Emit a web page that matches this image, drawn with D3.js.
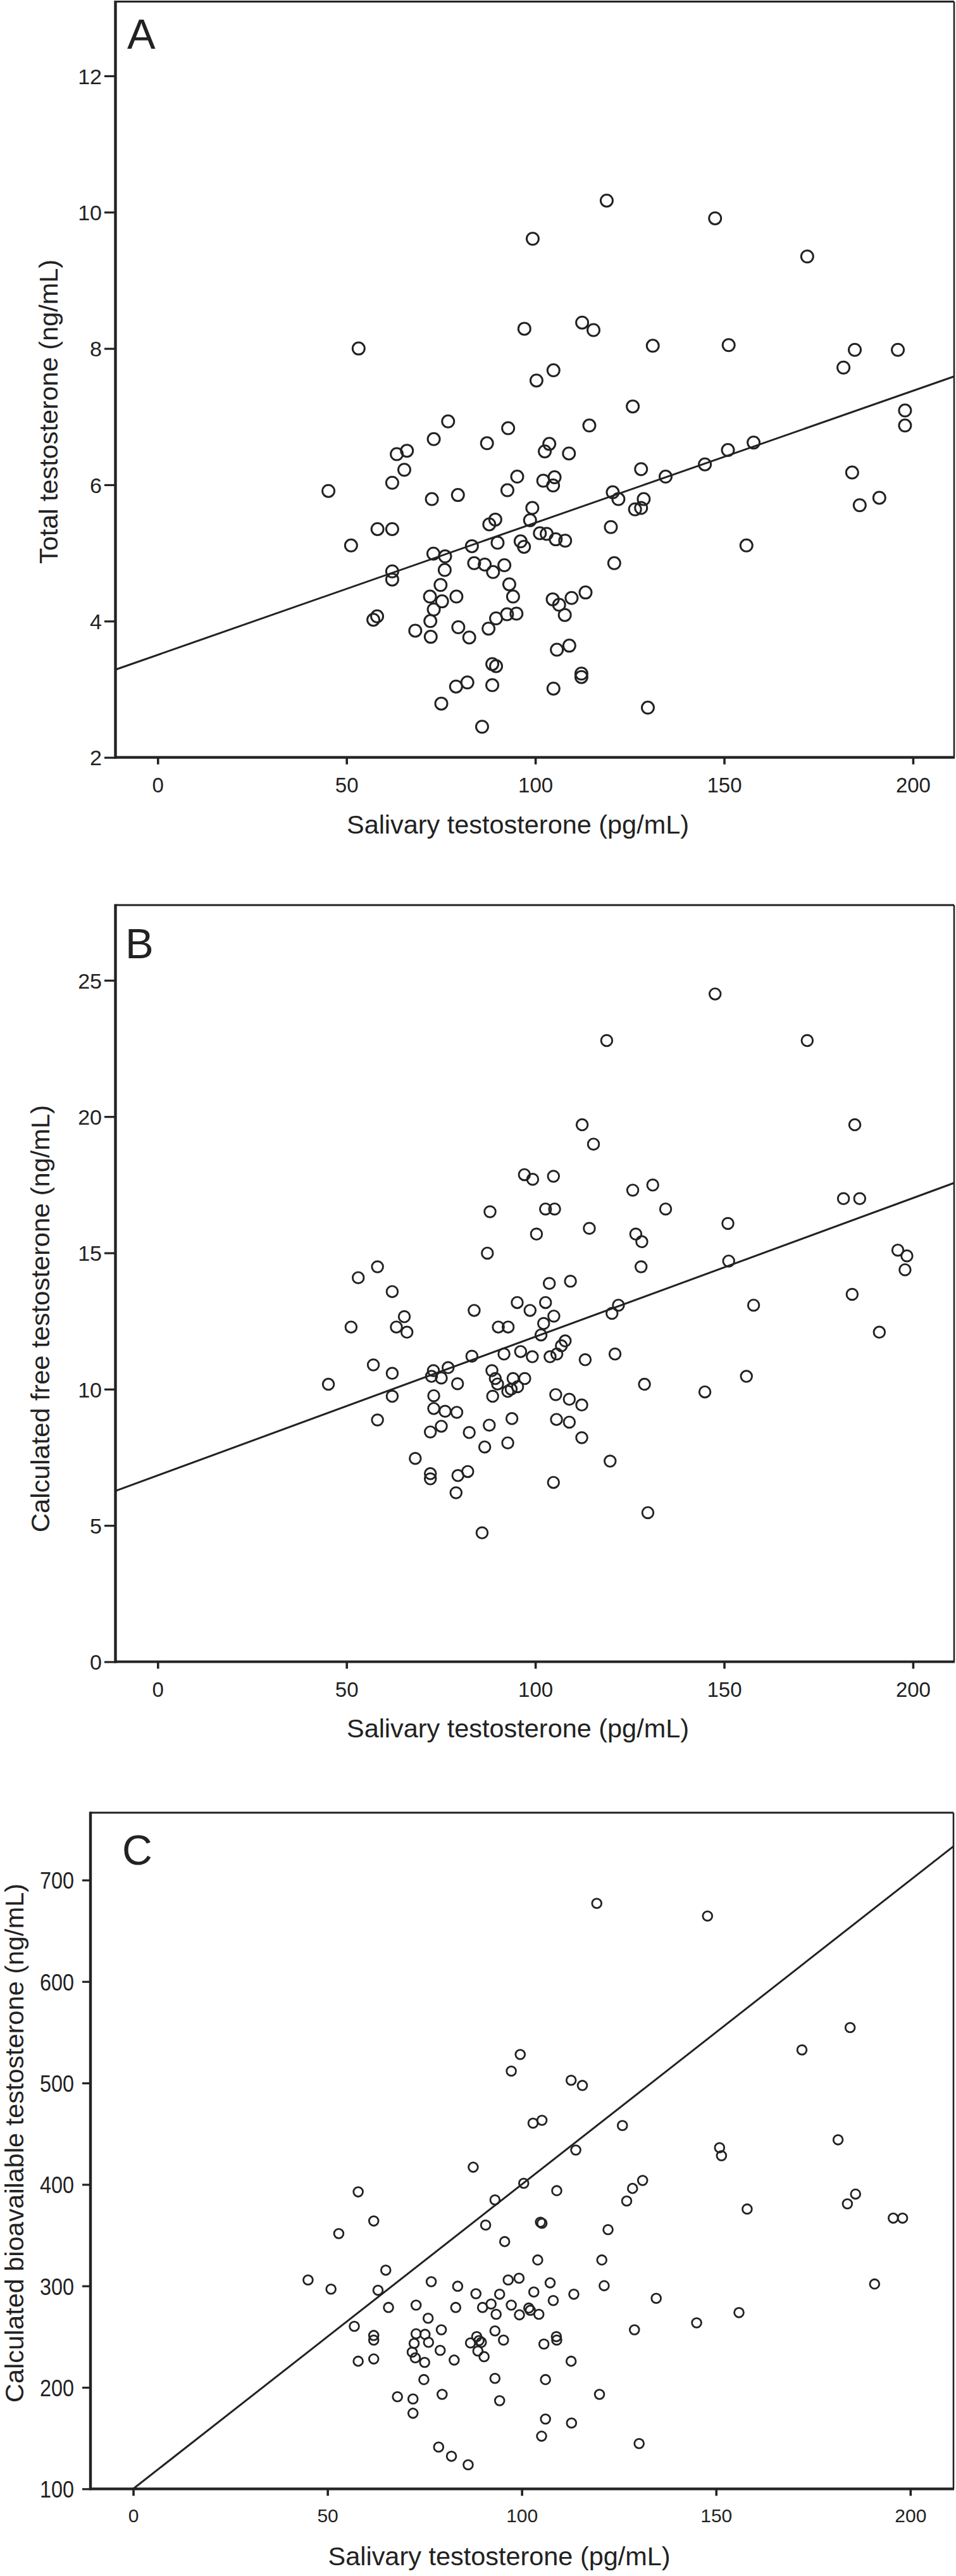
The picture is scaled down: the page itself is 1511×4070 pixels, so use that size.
<!DOCTYPE html>
<html>
<head>
<meta charset="utf-8">
<script src="https://cdn.jsdelivr.net/npm/d3@7"></script>
<style>
  html, body { margin: 0; padding: 0; background: #fff; }
  svg { display: block; }
  text { font-family: 'Liberation Sans', Arial, Helvetica, sans-serif; fill: #222; }
</style>
</head>
<body>
<svg id="chart" width="1511" height="4070"></svg>
<script>
// ---- Data ----
const xTicks = [0, 50, 100, 150, 200];
const totalTicks = [2, 4, 6, 8, 10, 12];
const freeTicks = [0, 5, 10, 15, 20, 25];
const bioTicks = [100, 200, 300, 400, 500, 600, 700];

const xTitle = 'Salivary testosterone (pg/mL)';
const yTitles = ['Total testosterone (ng/mL)', 'Calculated free testosterone (ng/mL)',
  'Calculated bioavailable testosterone (ng/mL)'];
const panelLetters = ['A', 'B', 'C'];

// Panel A: salivary vs total testosterone
const salivaryA = [53.2, 45.2, 51.2, 58.2, 62.1, 62.1, 63.3, 66.0, 65.3, 73.1, 76.9, 72.6, 79.5,
  62.1, 62.1, 73.0, 76.1, 76.0, 74.9, 72.1, 75.3, 73.1, 79.1, 72.2, 58.1, 57.1, 68.2, 72.3,
  79.6, 82.5, 79.0, 82.0, 75.1, 83.2, 83.8,
  118.9, 99.3, 147.6, 172.0, 97.1, 112.4, 115.4, 131.1, 151.2, 184.6, 181.6, 196.0, 104.8,
  100.3, 125.8, 92.8, 114.3, 87.2, 103.7, 102.5, 108.9, 197.9, 197.9, 95.2, 92.6, 102.1,
  105.1, 104.7, 157.8, 151.0, 144.9, 134.5, 128.0, 120.5, 122.0, 128.7, 126.4, 128.0, 183.9,
  185.9, 191.1, 99.2, 98.6, 89.4, 87.8, 120.0, 90.0, 96.1, 97.0, 101.2, 103.0, 105.4, 107.9,
  86.6, 88.8, 91.8, 155.9, 120.9, 93.1, 94.1, 113.3, 104.6, 106.3, 109.6, 107.8, 89.6, 92.5,
  95.0, 87.6, 105.7, 109.0, 88.6, 89.6, 88.6, 104.8, 112.2, 112.2, 129.8, 85.9];
const totalT = [8.00, 5.91, 5.11, 5.35, 5.35, 6.03, 6.45, 6.50, 6.22, 6.67, 6.93, 5.79, 5.85,
  4.73, 4.61, 4.99, 4.95, 4.75, 4.53, 4.36, 4.29, 4.17, 4.36, 4.00, 4.07, 4.02, 3.86, 3.77,
  3.91, 3.76, 3.04, 3.10, 2.79, 5.10, 4.85,
  10.17, 9.61, 9.91, 9.35, 8.29, 8.38, 8.27, 8.04, 8.05, 7.98, 7.72, 7.98, 7.68,
  7.53, 7.15, 6.83, 6.87, 6.61, 6.60, 6.49, 6.46, 7.09, 6.87, 6.12, 5.92, 6.06,
  6.11, 5.99, 6.62, 6.51, 6.30, 6.12, 6.23, 5.89, 5.79, 5.79, 5.64, 5.66, 6.18,
  5.70, 5.81, 5.66, 5.48, 5.49, 5.42, 5.38, 5.15, 5.17, 5.09, 5.29, 5.28, 5.20, 5.18,
  4.83, 4.72, 4.82, 5.11, 4.85, 4.54, 4.36, 4.42, 4.32, 4.24, 4.34, 4.09, 4.04, 4.10,
  4.11, 3.89, 3.58, 3.64, 3.37, 3.34, 3.06, 3.01, 3.23, 3.18, 2.73, 2.45];

// Panel B: salivary vs calculated free testosterone
const salivaryB = [45.2, 51.2, 53.1, 58.2, 62.1, 63.2, 65.3, 66.0, 57.1, 62.1, 62.1, 58.2, 83.8,
  83.2, 73.0, 72.5, 75.1, 76.9, 79.4, 73.1, 73.1, 76.1, 79.2, 75.1, 72.2, 82.5, 68.2, 72.2,
  72.2, 79.5, 82.1, 79.0,
  147.6, 118.9, 172.0, 112.4, 115.4, 184.6, 97.1, 99.3, 104.8, 125.8, 131.1, 102.7, 105.1,
  134.5, 88.0, 181.6, 185.9, 114.3, 100.3, 151.0, 126.6, 128.2, 87.3, 128.0, 151.2, 196.0,
  198.4, 197.9, 103.7, 109.3, 95.2, 102.7, 98.6, 104.9, 102.2, 120.3, 122.0, 157.8, 183.9,
  191.1, 90.2, 92.8, 101.5, 107.9, 106.9, 105.7, 103.9, 96.1, 99.2, 91.7, 121.1, 113.2,
  88.5, 89.4, 94.1, 97.2, 95.3, 92.7, 88.7, 128.9, 144.9, 155.9, 105.4, 109.0, 112.3, 93.8,
  87.8, 105.6, 109.0, 92.7, 86.6, 112.3, 119.8, 104.8, 129.8, 85.9, 90.0, 93.6];
const freeT = [10.18, 12.28, 14.09, 14.49, 13.58, 12.28, 12.66, 12.09, 10.89, 10.58, 9.74, 8.87, 12.89,
  11.21, 10.68, 10.47, 10.41, 10.79, 10.20, 9.76, 9.29, 9.19, 9.15, 8.64, 8.43, 8.41, 7.46, 6.90,
  6.71, 6.83, 6.98, 6.20,
  24.50, 22.79, 22.79, 19.70, 18.99, 19.70, 17.87, 17.70, 17.81, 17.30, 17.49, 16.61, 16.61,
  16.61, 16.51, 16.99, 16.99, 15.90, 15.69, 16.08, 15.69, 15.41, 14.99, 14.49, 14.70, 15.10,
  14.89, 14.38, 13.88, 13.96, 13.18, 13.18, 12.89, 12.68, 12.41, 12.78, 13.08, 13.08, 13.48,
  12.09, 12.28, 12.28, 11.99, 11.77, 11.59, 11.29, 11.19, 11.38, 11.19, 11.29, 11.29, 11.08,
  10.68, 10.39, 10.39, 10.39, 10.09, 9.92, 9.74, 10.18, 9.90, 10.47, 9.80, 9.63, 9.42, 8.92,
  8.68, 8.89, 8.79, 8.03, 7.88, 8.22, 7.36, 6.58, 5.47, 4.73, 10.19, 10.00];

// Panel C: salivary vs calculated bioavailable testosterone
const salivaryC = [45.0, 50.9, 52.9, 57.9, 61.9, 65.0, 63.0, 65.7, 56.9, 61.9, 61.9, 57.9, 61.9,
  76.7, 72.8, 75.9, 79.3, 72.8, 75.1, 76.0, 72.3, 71.8, 72.6, 75.0, 79.0, 74.8, 79.5, 68.0,
  72.0, 72.0, 78.6, 81.9, 86.2, 87.5, 83.5, 83.0, 82.6, 86.8, 88.2,
  119.3, 147.8, 172.1, 184.5, 181.4, 183.8, 185.9, 195.6, 198.0, 190.8, 158.0, 155.9, 145.0,
  150.9, 151.4, 99.6, 97.3, 112.7, 115.6, 102.9, 105.2, 125.9, 113.9, 100.5, 93.1, 109.0,
  127.0, 128.5, 131.1, 90.7, 104.8, 105.2, 122.2, 95.6, 104.1, 120.6, 96.5, 99.3, 107.3,
  121.2, 94.3, 103.1, 113.4, 108.1, 134.6, 89.9, 92.1, 97.3, 99.4, 101.8, 102.2, 104.4,
  93.4, 93.1, 95.3, 89.0, 89.6, 88.7, 90.3, 108.9, 109.0, 105.7, 129.0, 112.7, 93.1, 106.1,
  120.0, 94.3, 106.1, 105.1, 112.8, 130.2, 88.4];
const bioT = [305.9, 296.8, 351.6, 392.7, 364.0, 315.5, 295.7, 278.8, 260.2, 251.2, 246.6, 225.8, 228.0,
  304.2, 281.1, 268.1, 256.8, 252.8, 252.3, 244.4, 243.3, 234.8, 229.2, 224.6, 236.5, 207.7, 193.1, 190.8,
  188.6, 174.5, 141.2, 132.1, 123.7, 417.0, 299.7, 278.8, 226.9, 243.8, 292.3,
  677.0, 664.6, 532.6, 554.6, 444.0, 380.9, 390.5, 366.8, 366.8, 301.9, 375.8, 273.7, 263.6,
  436.2, 428.3, 528.1, 511.7, 502.7, 497.6, 460.4, 463.2, 458.1, 433.9, 401.2, 384.8, 393.9,
  383.7, 396.1, 404.0, 360.0, 362.8, 361.7, 355.5, 343.7, 325.6, 325.6, 305.9, 307.6, 303.0,
  300.2, 291.8, 294.0, 291.8, 285.6, 287.8, 278.8, 282.2, 281.1, 271.5, 278.2, 276.0, 272.0,
  272.0, 255.7, 246.6, 246.1, 244.4, 235.9, 230.3, 250.0, 246.6, 242.7, 256.8, 225.8, 208.9, 207.7,
  193.1, 186.9, 168.8, 151.9, 164.9, 144.6, 250.0];

// Fitted lines: [intercept, slope]
const fitTotal = [3.505, 0.01937];
const fitFree = [6.835, 0.05088];
const fitBio = [100, 3.0];

// ---- Layout per panel ----
const INK = '#222';
const panels = [
  { xs: salivaryA, ys: totalT, yTicks: totalTicks, fit: fitTotal,
    left: 182.5, right: 1508, top: 2.5, bottom: 1196.7,
    xDomain: [-11.19, 210.9], yDomain: [2, 13.09],
    yTickLen: 17.5, yPad: 4, yFont: 34, yLabelW: null, xFont: 33, xLabelY: 55,
    letter: { x: 201, y: 77, size: 67 },
    yTitle: { x: 91, cy: 650.5, len: 481 },
    xTitleT: { x: 548, y: 1317 },
    r: 9.5, sw: 3 },
  { xs: salivaryB, ys: freeT, yTicks: freeTicks, fit: fitFree,
    left: 182.5, right: 1508, top: 1430, bottom: 2625.5,
    xDomain: [-11.19, 210.9], yDomain: [0, 27.76],
    yTickLen: 17.5, yPad: 4, yFont: 34, yLabelW: null, xFont: 33, xLabelY: 55,
    letter: { x: 198, y: 1514, size: 67 },
    yTitle: { x: 78, cy: 2083.5, len: 675 },
    xTitleT: { x: 548, y: 2745 },
    r: 8.8, sw: 2.9 },
  { xs: salivaryC, ys: bioT, yTicks: bioTicks, fit: fitBio,
    left: 143, right: 1507, top: 2864, bottom: 3932.3,
    xDomain: [-11.0, 211.1], yDomain: [100, 766.4],
    yTickLen: 13, yPad: 13, yFont: 37.5, yLabelW: 18, xFont: 30, xLabelY: 53,
    letter: { x: 193, y: 2946, size: 66 },
    yTitle: { x: 36.5, cy: 3386, len: 820 },
    xTitleT: { x: 518.6, y: 4053 },
    r: 7.4, sw: 2.8 }
];

const svg = d3.select('#chart');

panels.forEach(function (p, i) {
  const x = d3.scaleLinear().domain(p.xDomain).range([p.left, p.right]);
  const y = d3.scaleLinear().domain(p.yDomain).range([p.bottom, p.top]);
  const g = svg.append('g').attr('class', 'panel-' + panelLetters[i]);

  // Y axis ticks + labels
  const yAxis = g.append('g')
    .attr('transform', 'translate(' + p.left + ',0)')
    .call(d3.axisLeft(y).tickValues(p.yTicks).tickSize(p.yTickLen)
      .tickPadding(p.yPad).tickFormat(d3.format('d')));
  yAxis.select('.domain').remove();
  yAxis.selectAll('.tick line').attr('stroke', INK).attr('stroke-width', 3.2);
  yAxis.selectAll('.tick text')
    .attr('font-size', p.yFont)
    .attr('font-family', "'Liberation Sans', Arial, sans-serif")
    .attr('fill', INK)
    .attr('dy', '0.36em')
    .each(function (d) {
      if (p.yLabelW) {
        d3.select(this)
          .attr('textLength', String(d).length * p.yLabelW)
          .attr('lengthAdjust', 'spacingAndGlyphs');
      }
    });

  // X axis ticks + labels
  const xAxis = g.append('g')
    .attr('transform', 'translate(0,' + p.bottom + ')')
    .call(d3.axisBottom(x).tickValues(xTicks).tickSize(11).tickFormat(d3.format('d')));
  xAxis.select('.domain').remove();
  xAxis.selectAll('.tick line').attr('stroke', INK).attr('stroke-width', 3.6);
  xAxis.selectAll('.tick text')
    .attr('font-size', p.xFont)
    .attr('font-family', "'Liberation Sans', Arial, sans-serif")
    .attr('fill', INK)
    .attr('y', p.xLabelY)
    .attr('dy', null);

  // Frame: thick left/bottom axes, thinner top/right
  g.append('line').attr('x1', p.left).attr('x2', p.right)
    .attr('y1', p.top).attr('y2', p.top)
    .attr('stroke', INK).attr('stroke-width', 3);
  g.append('line').attr('x1', p.right).attr('x2', p.right)
    .attr('y1', p.top).attr('y2', p.bottom)
    .attr('stroke', INK).attr('stroke-width', 2.6);
  g.append('line').attr('x1', p.left - 1).attr('x2', p.right + 1)
    .attr('y1', p.bottom).attr('y2', p.bottom)
    .attr('stroke', INK).attr('stroke-width', 4.2);
  g.append('line').attr('x1', p.left).attr('x2', p.left)
    .attr('y1', p.top - 1.5).attr('y2', p.bottom + 2)
    .attr('stroke', INK).attr('stroke-width', 4.4);

  // Fit line, clipped to the plotting window
  const a = p.fit[0], b = p.fit[1];
  const xs0 = Math.max(p.xDomain[0], (p.yDomain[0] - a) / b);
  const xs1 = Math.min(p.xDomain[1], (p.yDomain[1] - a) / b);
  g.append('path')
    .datum([xs0, xs1])
    .attr('fill', 'none')
    .attr('stroke', INK)
    .attr('stroke-width', 3)
    .attr('d', d3.line()
      .x(function (d) { return x(d); })
      .y(function (d) { return y(a + b * d); }));

  // Points
  g.append('g').selectAll('circle')
    .data(d3.zip(p.xs, p.ys))
    .enter()
    .append('circle')
    .attr('cx', function (d) { return x(d[0]); })
    .attr('cy', function (d) { return y(d[1]); })
    .attr('r', p.r)
    .attr('fill', 'none')
    .attr('stroke', INK)
    .attr('stroke-width', p.sw);

  // Panel letter
  g.append('text')
    .attr('x', p.letter.x).attr('y', p.letter.y)
    .attr('font-size', p.letter.size)
    .text(panelLetters[i]);

  // Axis titles
  g.append('text')
    .attr('transform', 'translate(' + p.yTitle.x + ',' + p.yTitle.cy + ') rotate(-90)')
    .attr('text-anchor', 'middle')
    .attr('font-size', 41.5)
    .attr('textLength', p.yTitle.len)
    .attr('lengthAdjust', 'spacingAndGlyphs')
    .text(yTitles[i]);

  g.append('text')
    .attr('x', p.xTitleT.x).attr('y', p.xTitleT.y)
    .attr('font-size', 41.5)
    .attr('textLength', 541)
    .attr('lengthAdjust', 'spacingAndGlyphs')
    .text(xTitle);
});
</script>
</body>
</html>
